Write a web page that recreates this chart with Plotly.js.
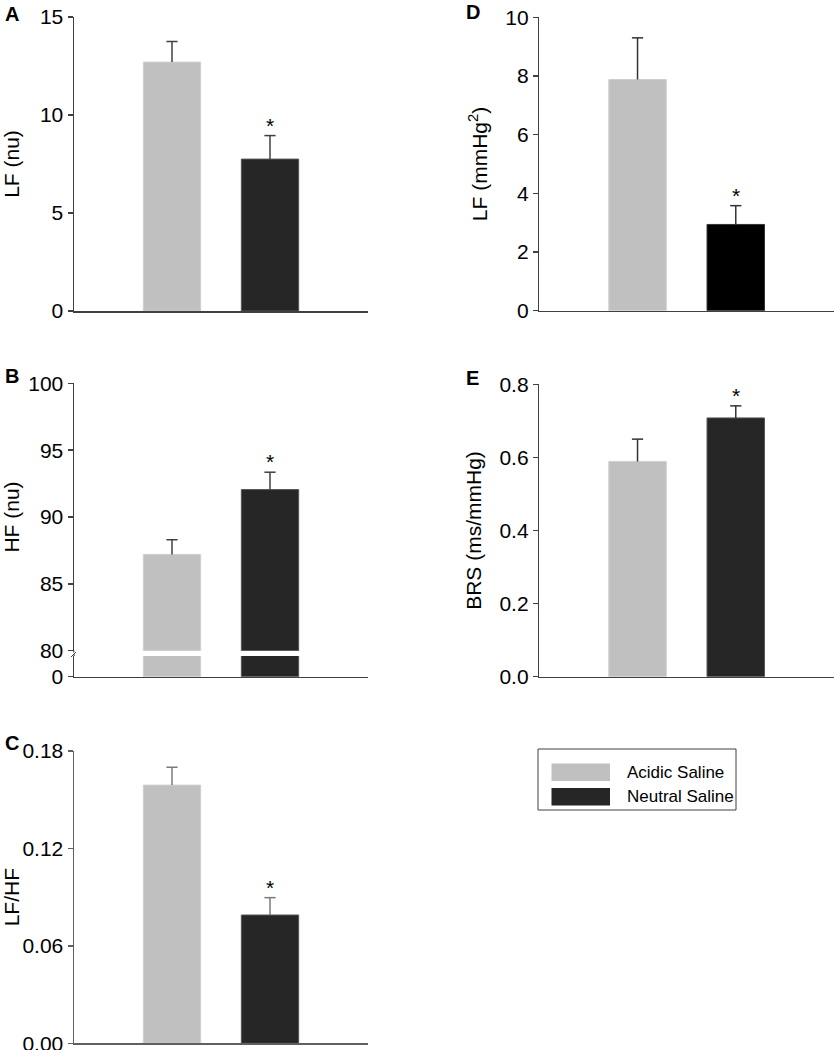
<!DOCTYPE html>
<html>
<head>
<meta charset="utf-8">
<script src="https://cdn.plot.ly/plotly-3.0.1.min.js"></script>
<style>html,body{margin:0;padding:0;background:#fff;}#chart{width:834px;height:1050px;}</style>
</head>
<body>
<div id="chart"></div>
<script>
// ---- data ----
var groups = ['Acidic Saline', 'Neutral Saline'];
var groupPos = [1, 2];
var lfNu = [12.7, 7.75];
var lfNuErr = [1.05, 1.2];
var hfNu = [87.2, 92.05];
var hfNuErr = [1.1, 1.3];
var lfHf = [0.159, 0.079];
var lfHfErr = [0.011, 0.0107];
var lfMmHg = [7.88, 2.94];
var lfMmHgErr = [1.42, 0.64];
var brs = [0.589, 0.708];
var brsErr = [0.061, 0.033];
var significant = [false, true];

// ---- helpers ----
var W = 834, H = 1050;
function px(x) { return x / W; }
function py(y) { return 1 - y / H; }
var FONT = 'Liberation Sans, Arial, sans-serif';
var AXFS = 21;
var grayColor = '#c0c0c0', darkColor = '#262626';

var traces = [];
function addBars(vals, errs, xa, ya, colors, errColor, lineColors) {
  var t = {
    type: 'bar', x: groupPos, y: vals, xaxis: xa, yaxis: ya, width: 0.585,
    marker: { color: colors, line: { color: lineColors, width: 1 } },
    showlegend: false, hoverinfo: 'skip'
  };
  if (errs) {
    t.error_y = { type: 'data', symmetric: false, array: errs, arrayminus: [0, 0],
                  color: errColor, thickness: 1.5, width: 0 };
  }
  traces.push(t);
  if (errs) {
    // caps on the upper end of the error bars only
    traces.push({
      type: 'scatter', mode: 'markers', x: groupPos, xaxis: xa, yaxis: ya,
      y: vals.map(function (v, i) { return v + errs[i]; }),
      marker: { symbol: 'line-ew', size: 8, line: { color: errColor, width: 1.5 } },
      showlegend: false, hoverinfo: 'skip', cliponaxis: false
    });
  }
}

addBars(lfNu, lfNuErr, 'x', 'y', [grayColor, darkColor], '#404040', ['#cfcfcf', '#555555']);
addBars(hfNu, hfNuErr, 'x2', 'y2', [grayColor, darkColor], '#404040', ['#cfcfcf', '#555555']);
addBars(hfNu, null, 'x2', 'y3', [grayColor, darkColor], '#404040', ['#cfcfcf', '#555555']);
addBars(lfHf, lfHfErr, 'x4', 'y4', [grayColor, darkColor], '#7a7a7a', ['#cfcfcf', '#555555']);
addBars(lfMmHg, lfMmHgErr, 'x5', 'y5', [grayColor, '#000000'], '#333333', ['#cfcfcf', '#333333']);
addBars(brs, brsErr, 'x6', 'y6', [grayColor, darkColor], '#333333', ['#cfcfcf', '#555555']);

function xAxis(domain, anchor, lc) {
  return { domain: domain, anchor: anchor, range: [0, 3], showline: true, linecolor: lc || '#404040',
           linewidth: 1.5, ticks: '', showticklabels: false, showgrid: false, zeroline: false, fixedrange: true };
}
function yAxis(domain, anchor, range, dtick, title, standoff, lc, extra) {
  var a = { domain: domain, anchor: anchor, range: range, dtick: dtick, tick0: 0,
            showline: true, linecolor: lc || '#404040', linewidth: 1.5,
            ticks: 'outside', ticklen: 5, tickwidth: 1.5, tickcolor: lc || '#404040',
            showgrid: false, zeroline: false, fixedrange: true, ticklabeloverflow: 'allow',
            tickfont: { family: FONT, size: AXFS, color: '#000' } };
  if (title) a.title = { text: title, font: { family: FONT, size: AXFS, color: '#000' }, standoff: standoff };
  if (extra) for (var k in extra) a[k] = extra[k];
  return a;
}

var xLeft = [px(74), px(368)];
var xRight = [px(539.3), 1];

var layout = {
  width: W, height: H, margin: { l: 0, r: 0, t: 0, b: 0 },
  paper_bgcolor: '#fff', plot_bgcolor: 'rgba(0,0,0,0)',
  showlegend: false, font: { family: FONT },
  xaxis: xAxis(xLeft, 'y'),
  yaxis: yAxis([py(311), py(17)], 'x', [0, 15], 5, 'LF (nu)', 16),
  xaxis2: xAxis(xLeft, 'y3'),
  yaxis2: yAxis([py(650.7), py(383.3)], 'x2', [80, 100], 5, 'HF (nu)', 10),
  yaxis3: yAxis([py(676.7), py(656)], 'x2', [0, 10], 10, null, 0, '#404040', { tickvals: [0], ticktext: ['0'] }),
  xaxis4: xAxis(xLeft, 'y4', '#606060'),
  yaxis4: yAxis([py(1043.3), py(751)], 'x4', [0, 0.18], 0.06, 'LF/HF', 2, '#606060', { tickformat: '.2f' }),
  xaxis5: xAxis(xRight, 'y5'),
  yaxis5: yAxis([py(310.7), py(17.3)], 'x5', [0, 10], 2, 'LF (mmHg<sup>2</sup>)', 12),
  xaxis6: xAxis(xRight, 'y6'),
  yaxis6: yAxis([py(676.7), py(384.3)], 'x6', [0, 0.8], 0.2, 'BRS (ms/mmHg)', 12, '#404040', { tickformat: '.1f' }),
  shapes: [
    // axis break mark on panel B
    { type: 'line', xref: 'paper', yref: 'paper', x0: px(74), y0: py(650.7), x1: px(74), y1: py(656),
      line: { color: '#404040', width: 1.5 } },
    { type: 'line', xref: 'paper', yref: 'paper', x0: px(71.5), y0: py(656), x1: px(76.5), y1: py(651),
      line: { color: '#ffffff', width: 2 } },
    { type: 'line', xref: 'paper', yref: 'paper', x0: px(71), y0: py(657), x1: px(76), y1: py(652),
      line: { color: '#404040', width: 1 } },
    // legend box and swatches
    { type: 'rect', xref: 'paper', yref: 'paper', x0: px(538), y0: py(810), x1: px(736), y1: py(749),
      line: { color: '#404040', width: 1 }, fillcolor: 'rgba(0,0,0,0)' },
    { type: 'rect', xref: 'paper', yref: 'paper', x0: px(551.5), y0: py(781), x1: px(610), y1: py(763.5),
      line: { width: 0 }, fillcolor: grayColor },
    { type: 'rect', xref: 'paper', yref: 'paper', x0: px(551.5), y0: py(805.5), x1: px(610), y1: py(788),
      line: { width: 0 }, fillcolor: darkColor }
  ],
  annotations: []
};

// panel letters
var letters = [['A', 3, 14], ['B', 3, 376], ['C', 3, 743], ['D', 464, 12], ['E', 464, 378]];
letters.forEach(function (l) {
  layout.annotations.push({ text: '<b>' + l[0] + '</b>', xref: 'paper', yref: 'paper', x: px(l[1]), y: py(l[2]),
    xanchor: 'left', yanchor: 'middle', showarrow: false, font: { family: FONT, size: 20, color: '#000' } });
});

// significance asterisks
var panels = [['x', 'y', lfNu, lfNuErr], ['x2', 'y2', hfNu, hfNuErr], ['x4', 'y4', lfHf, lfHfErr],
              ['x5', 'y5', lfMmHg, lfMmHgErr], ['x6', 'y6', brs, brsErr]];
panels.forEach(function (p) {
  for (var i = 0; i < groups.length; i++) {
    if (!significant[i]) continue;
    layout.annotations.push({ text: '*', xref: p[0], yref: p[1], x: groupPos[i], y: p[2][i] + p[3][i],
      xanchor: 'center', yanchor: 'bottom', yshift: -3, showarrow: false,
      font: { family: FONT, size: 21, color: '#000' } });
  }
});

// legend labels
layout.annotations.push({ text: groups[0], xref: 'paper', yref: 'paper', x: px(625), y: py(772.5),
  xanchor: 'left', yanchor: 'middle', showarrow: false, font: { family: FONT, size: 17, color: '#000' } });
layout.annotations.push({ text: groups[1], xref: 'paper', yref: 'paper', x: px(625), y: py(796.5),
  xanchor: 'left', yanchor: 'middle', showarrow: false, font: { family: FONT, size: 17, color: '#000' } });

Plotly.newPlot('chart', traces, layout, { staticPlot: true, displayModeBar: false });
</script>
</body>
</html>
